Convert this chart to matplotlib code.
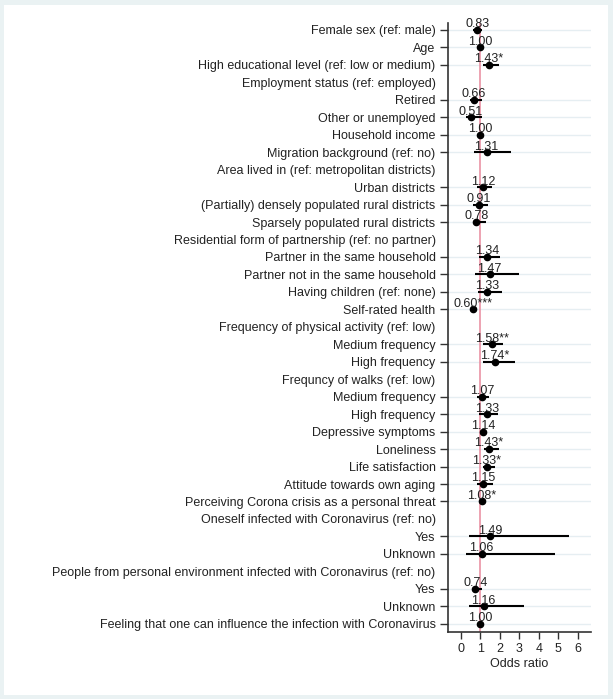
import numpy as np
import matplotlib
matplotlib.use("Agg")
import matplotlib.pyplot as plt
import matplotlib.patches as mpatches

plt.rcParams["font.family"] = ["Liberation Sans", "DejaVu Sans"]

# ---------------------------------------------------------------------------
# Data (None = group header row, no estimate)
# ---------------------------------------------------------------------------
labels = [
    "Female sex (ref: male)",
    "Age",
    "High educational level (ref: low or medium)",
    "Employment status (ref: employed)",
    "Retired",
    "Other or unemployed",
    "Household income",
    "Migration background (ref: no)",
    "Area lived in (ref: metropolitan districts)",
    "Urban districts",
    "(Partially) densely populated rural districts",
    "Sparsely populated rural districts",
    "Residential form of partnership (ref: no partner)",
    "Partner in the same household",
    "Partner not in the same household",
    "Having children (ref: none)",
    "Self-rated health",
    "Frequency of physical activity (ref: low)",
    "Medium frequency",
    "High frequency",
    "Frequncy of walks (ref: low)",
    "Medium frequency",
    "High frequency",
    "Depressive symptoms",
    "Loneliness",
    "Life satisfaction",
    "Attitude towards own aging",
    "Perceiving Corona crisis as a personal threat",
    "Oneself infected with Coronavirus (ref: no)",
    "Yes",
    "Unknown",
    "People from personal environment infected with Coronavirus (ref: no)",
    "Yes",
    "Unknown",
    "Feeling that one can influence the infection with Coronavirus",
]

odds = [0.83, 1.00, 1.43, None, 0.66, 0.51, 1.00, 1.31, None, 1.12, 0.91, 0.78,
        None, 1.34, 1.47, 1.33, 0.60, None, 1.58, 1.74, None, 1.07, 1.33, 1.14,
        1.43, 1.33, 1.15, 1.08, None, 1.49, 1.06, None, 0.74, 1.16, 1.00]

ci_low = [0.63, 0.99, 1.11, None, 0.46, 0.26, 0.99, 0.69, None, 0.81, 0.63, 0.63,
          None, 0.94, 0.74, 0.86, 0.53, None, 1.15, 1.11, None, 0.84, 0.94, 0.99,
          1.18, 1.11, 0.81, 1.01, None, 0.41, 0.26, None, 0.55, 0.43, 0.98]

ci_high = [1.06, 1.01, 1.94, None, 1.06, 1.08, 1.01, 2.57, None, 1.61, 1.37, 1.27,
           None, 2.00, 2.98, 2.12, 0.68, None, 2.18, 2.78, None, 1.46, 1.92, 1.32,
           1.95, 1.73, 1.63, 1.15, None, 5.54, 4.83, None, 1.06, 3.25, 1.02]

stars = ["", "", "*", "", "", "", "", "", "", "", "", "",
         "", "", "", "", "***", "", "**", "*", "", "", "", "",
         "*", "*", "", "*", "", "", "", "", "", "", ""]

xticks = [0, 1, 2, 3, 4, 5, 6]

# ---------------------------------------------------------------------------
# Figure
# ---------------------------------------------------------------------------
fig = plt.figure(figsize=(6.13, 6.99), dpi=100, facecolor="#eaf2f3")
fig.patches.append(mpatches.Rectangle((4 / 613, 4 / 699), 1 - 9 / 613, 1 - 9 / 699,
                                      transform=fig.transFigure, facecolor="white",
                                      edgecolor="none", zorder=-10))

ax = fig.add_axes([448 / 613, 1 - 632 / 699, (591 - 448) / 613, (632 - 23) / 699])
ax.set_facecolor("none")

n = len(labels)
ypos = np.arange(1, n + 1)
est_idx = [i for i in range(n) if odds[i] is not None]

# grid lines for estimate rows
for i in est_idx:
    ax.axhline(ypos[i], color="#e6eef2", linewidth=1.0, zorder=1)

ax.axvline(1, color="#e8899c", linewidth=1.1, zorder=2)

for i in est_idx:
    ax.plot([ci_low[i], ci_high[i]], [ypos[i], ypos[i]], color="black",
            linewidth=1.5, solid_capstyle="butt", zorder=3)
    ax.plot(odds[i], ypos[i], "o", color="black", markersize=4.5, zorder=4)
    ax.text(odds[i], ypos[i] - 0.15, f"{odds[i]:.2f}{stars[i]}", ha="center",
            va="baseline", fontsize=9, color="#222222", zorder=5)

ax.set_xlim(-0.67, 6.68)
ax.set_ylim(n + 0.475, 0.6)

ax.set_yticks(ypos)
ax.set_yticklabels(labels, fontsize=9, color="#222222")
for i, t in enumerate(ax.yaxis.get_major_ticks()):
    if odds[i] is None:
        t.tick1line.set_visible(False)

ax.set_xticks(xticks)
ax.set_xticklabels([str(v) for v in xticks], fontsize=9, color="#222222")
ax.set_xlabel("Odds ratio", fontsize=9, color="#222222", labelpad=2)

ax.tick_params(axis="y", length=6, width=1, color="#333333", pad=3)
ax.tick_params(axis="x", length=5, width=1, color="#333333", pad=3)
for s in ["top", "right"]:
    ax.spines[s].set_visible(False)
for s in ["left", "bottom"]:
    ax.spines[s].set_color("#333333")
    ax.spines[s].set_linewidth(1.2)

plt.savefig("out.png", dpi=100, facecolor=fig.get_facecolor())
